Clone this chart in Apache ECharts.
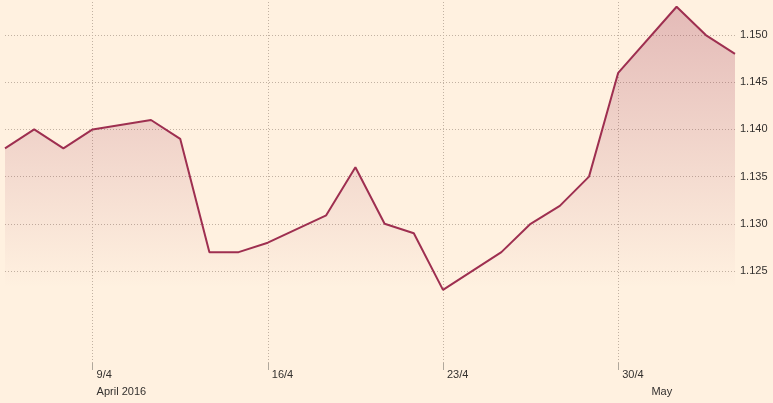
<!DOCTYPE html>
<html>
<head>
<meta charset="utf-8">
<script src="https://cdn.jsdelivr.net/npm/echarts@6/dist/echarts.min.js"></script>
<style>
html,body{margin:0;padding:0;background:#fff1e0;}
#chart{width:773px;height:403px;}
</style>
</head>
<body>
<div id="chart"></div>
<script>
// Categories (one slot per trading-day position on the axis)
var dates = ['6/4','7/4','8/4','9/4','11/4','12/4','13/4','14/4','15/4','16/4','18/4','19/4','20/4','21/4','22/4','23/4','25/4','26/4','27/4','28/4','29/4','30/4','2/5','3/5','4/5','5/5'];
// Series values (null = no point, line continues straight)
var values = [1.138,1.140,1.138,1.140,null,1.141,1.139,1.127,1.127,1.128,null,1.1309,1.136,1.130,1.129,1.123,null,1.127,1.130,1.1319,1.135,1.146,null,1.153,1.150,1.148];
// Tick labels
var dayLabels = ['9/4','16/4','23/4','30/4'];
var monthAt = ['9/4','2/5'];
var monthNames = ['April 2016','May'];
var yTicks = [1.125,1.130,1.135,1.140,1.145,1.150];

var grid = '#c2b2a2';
var txt = '#33302e';
var font = 'Liberation Sans, Arial, sans-serif';
var chart = echarts.init(document.getElementById('chart'), null, {renderer:'canvas'});
var isDay = function(i){ return dayLabels.indexOf(dates[i]) >= 0; };
chart.setOption({
  animation:false,
  backgroundColor:'#fff1e0',
  grid:{left:5,right:38,top:2,bottom:40,containLabel:false},
  xAxis:[{
    type:'category', data:dates, boundaryGap:false,
    axisLine:{show:false},
    axisTick:{show:true, length:7, interval:function(i){return isDay(i);}, lineStyle:{color:'#b0a89c',width:1}},
    splitLine:{show:true, interval:function(i){return isDay(i);}, lineStyle:{color:grid,type:[1,2],width:1}},
    axisLabel:{interval:0, align:'left', margin:6, padding:[0,0,0,4], color:txt, fontSize:11, fontFamily:font,
      formatter:function(v){ return dayLabels.indexOf(v)>=0 ? v : ''; }}
  },{
    type:'category', data:dates, boundaryGap:false, position:'bottom', offset:20,
    axisLine:{show:false}, axisTick:{show:false}, splitLine:{show:false},
    axisLabel:{interval:0, align:'left', margin:3, padding:[0,0,0,4], color:txt, fontSize:11, fontFamily:font,
      formatter:function(v){ var k = monthAt.indexOf(v); return k>=0 ? monthNames[k] : ''; }}
  }],
  yAxis:{
    type:'value', position:'right', min:1.115254, max:1.1535, scale:true,
    axisLine:{show:false},
    axisTick:{show:false, customValues:yTicks},
    axisLabel:{customValues:yTicks, margin:5, color:txt, fontSize:11, fontFamily:font,
      formatter:function(v){ return v.toFixed(3); }},
    splitLine:{show:true, lineStyle:{color:grid,type:[1,2],width:1}}
  },
  series:[{
    type:'line', data:values, xAxisIndex:0, connectNulls:true, symbol:'none',
    lineStyle:{color:'#9e2f50', width:2},
    areaStyle:{origin:'start', color:new echarts.graphic.LinearGradient(0,0,0,1,[
      {offset:0,color:'rgba(158,47,80,0.4)'},
      {offset:0.79,color:'rgba(158,47,80,0)'},
      {offset:1,color:'rgba(158,47,80,0)'}
    ])}
  }]
});
</script>
</body>
</html>
